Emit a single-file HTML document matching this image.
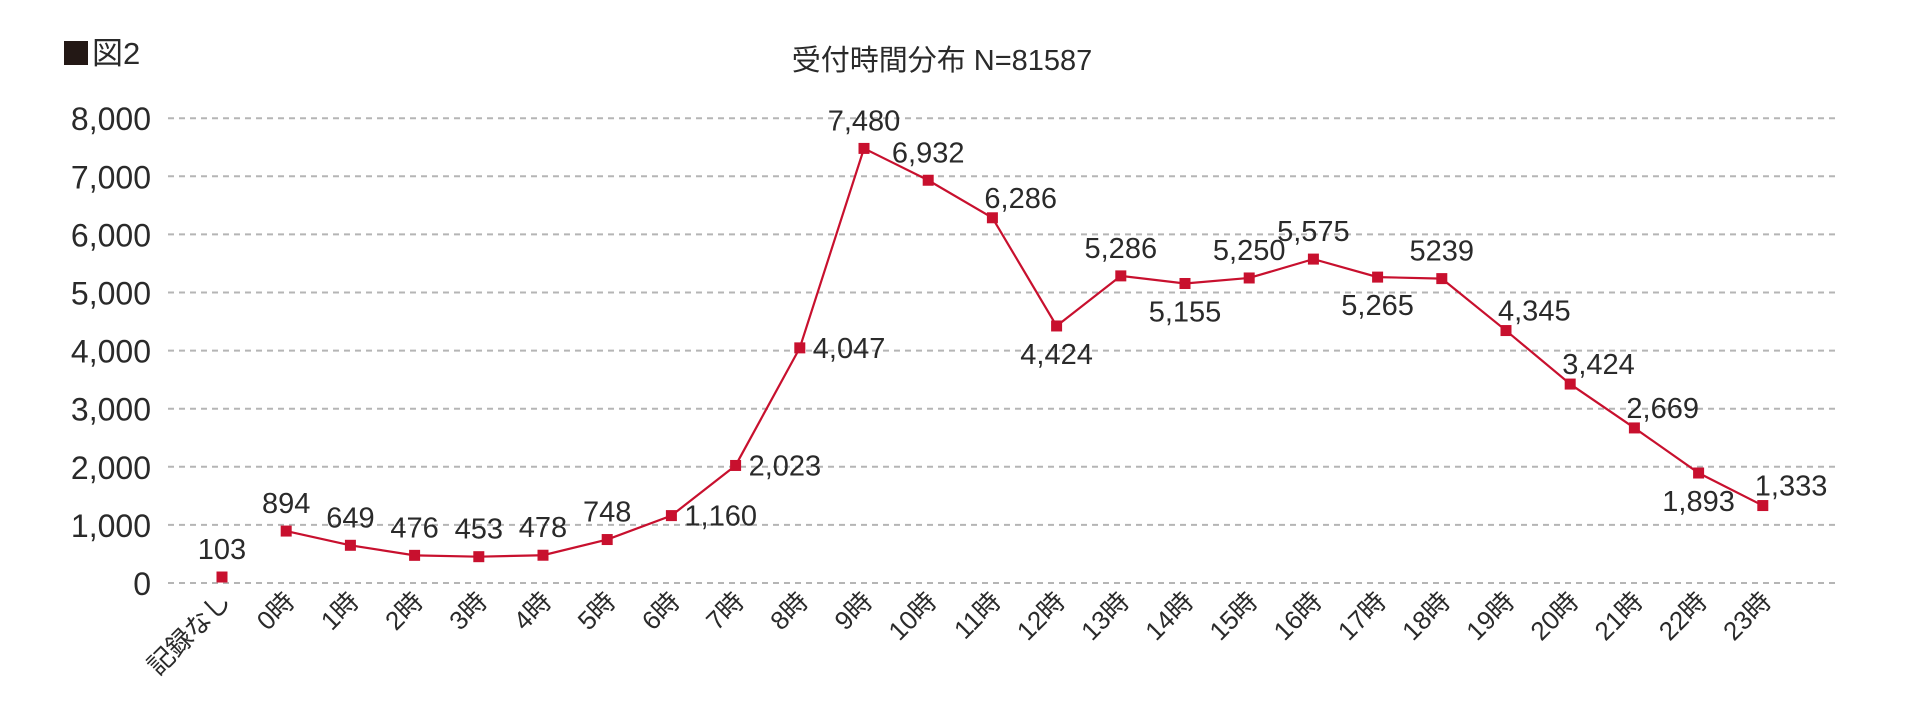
<!DOCTYPE html>
<html><head><meta charset="utf-8">
<style>
html,body{margin:0;padding:0;background:#fff;}
svg{display:block;}
text{font-family:"Liberation Sans","Noto Sans CJK JP",sans-serif;fill:#2a2a2a;}
</style></head>
<body>
<svg id="chart" width="1920" height="714" viewBox="0 0 1920 714" xmlns="http://www.w3.org/2000/svg">
<rect x="64" y="41" width="24" height="24" fill="#231815"/>
<text x="92" y="64" font-size="31">図2</text>
<text x="942" y="70" font-size="29" text-anchor="middle">受付時間分布 N=81587</text>
<g id="grid"></g>
<g id="yticks"></g>
<g id="xticks"></g>
<g id="series"></g>
<g id="labels"></g>
</svg>
<script>
const categories = ["記録なし","0時","1時","2時","3時","4時","5時","6時","7時","8時","9時","10時","11時","12時","13時","14時","15時","16時","17時","18時","19時","20時","21時","22時","23時"];
const values = [103,894,649,476,453,478,748,1160,2023,4047,7480,6932,6286,4424,5286,5155,5250,5575,5265,5239,4345,3424,2669,1893,1333];
const valueLabels = ["103","894","649","476","453","478","748","1,160","2,023","4,047","7,480","6,932","6,286","4,424","5,286","5,155","5,250","5,575","5,265","5239","4,345","3,424","2,669","1,893","1,333"];
const labelPos = ["t","t","t","t","t","t","t","r","r","r","t","t","ar","b","t","b","t","t","b","t","ar","ar","ar","b","ar"];
const yTicks = [0,1000,2000,3000,4000,5000,6000,7000,8000];
const yTickLabels = ["0","1,000","2,000","3,000","4,000","5,000","6,000","7,000","8,000"];

const NS="http://www.w3.org/2000/svg";
const x0=222, dx=64.2, yBase=583, yPer=58.1/1000;
function xs(i){return x0+i*dx;}
function ys(v){return yBase-v*yPer;}
function mk(tag,attrs,parent){const e=document.createElementNS(NS,tag);for(const k in attrs)e.setAttribute(k,attrs[k]);parent.appendChild(e);return e;}

const grid=document.getElementById('grid'), yt=document.getElementById('yticks'), xt=document.getElementById('xticks'), se=document.getElementById('series'), lb=document.getElementById('labels');
yTicks.forEach((v,i)=>{
  const l=mk('line',{x1:168,x2:1835,y1:ys(v),y2:ys(v),stroke:'#b5b5b5','stroke-width':2,'stroke-dasharray':'6 5'},grid);
  
  
  const t=mk('text',{x:151,y:ys(v)+12,'font-size':32,'text-anchor':'end'},yt);
  t.textContent=yTickLabels[i];
  
  
});
categories.forEach((c,i)=>{
  const x=xs(i)+10, y=603;
  const t=mk('text',{x:x,y:y,'font-size':26,'text-anchor':'end',transform:`rotate(-45 ${x} ${y})`},xt);
  t.textContent=c;
  
  
});
const pts=values.slice(1).map((v,k)=>xs(k+1)+','+ys(v)).join(' ');
const pl=mk('polyline',{points:pts,fill:'none',stroke:'#c8102e','stroke-width':2.2},se);


values.forEach((v,i)=>{
  const r=mk('rect',{x:xs(i)-5.5,y:ys(v)-5.5,width:11,height:11,fill:'#c8102e'},se);
  
  
  const p=labelPos[i]; let tx=xs(i), ty=ys(v), anchor='middle';
  if(p==='t'){ty-=18;}
  else if(p==='b'){ty+=38;}
  else if(p==='r'){tx+=13;ty+=10;anchor='start';}
  else if(p==='ar'){tx-=8;ty-=10;anchor='start';}
  const t=mk('text',{x:tx,y:ty,'font-size':29,'text-anchor':anchor},lb);
  t.textContent=valueLabels[i];
  
  
});
</script>
</body></html>
